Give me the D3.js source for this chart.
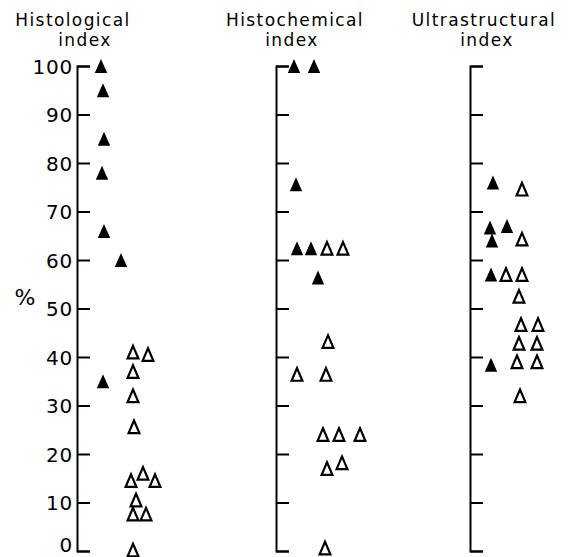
<!DOCTYPE html>
<html><head><meta charset="utf-8">
<script src="https://cdn.jsdelivr.net/npm/d3@7"></script>
<style>body{margin:0;background:#fff}svg{display:block}</style>
</head><body>
<script>
// ---- data ----
const panelTitles = [["Histological","index"],["Histochemical","index"],["Ultrastructural","index"]];
const yTicks = [0,10,20,30,40,50,60,70,80,90,100];
const yLabel = "%";

const histologicalFilled = [100,95,85,78,66,60,35];
const histologicalFilledLane = [2.4,2.6,2.7,2.5,2.7,4.4,2.6];
const histologicalOpen = [41,40.5,37,32,25.6,14.5,16,14.5,10.5,7.6,7.6,0.2];
const histologicalOpenLane = [5.6,7.1,5.6,5.6,5.7,5.4,6.6,7.8,5.9,5.6,6.9,5.6];

const histochemicalFilled = [100,100,75.6,62.4,62.4,56.4];
const histochemicalFilledLane = [1.8,3.8,2.0,2.1,3.5,4.2];
const histochemicalOpen = [62.4,62.4,43.2,36.4,36.4,24,24,24,17,18.2,0.6];
const histochemicalOpenLane = [5.1,6.7,5.2,2.1,5.0,4.7,6.3,8.4,5.1,6.6,4.9];

const ultrastructuralFilled = [76,66.7,67,64,57,38.4];
const ultrastructuralFilledLane = [2.3,2.0,3.7,2.2,2.1,2.1];
const ultrastructuralOpen = [74.6,64.3,57,57,52.5,46.7,46.7,42.8,42.8,39,39,32];
const ultrastructuralOpenLane = [5.2,5.2,3.6,5.2,4.9,5.1,6.8,4.9,6.7,4.7,6.7,5.0];

const panels = [
  {filled: histologicalFilled, filledLane: histologicalFilledLane, open: histologicalOpen, openLane: histologicalOpenLane},
  {filled: histochemicalFilled, filledLane: histochemicalFilledLane, open: histochemicalOpen, openLane: histochemicalOpenLane},
  {filled: ultrastructuralFilled, filledLane: ultrastructuralFilledLane, open: ultrastructuralOpen, openLane: ultrastructuralOpenLane}
];

// ---- layout ----
const W = 571, H = 557;
const axisX = [77, 276, 470];
const titleX = [[73,85],[295,292],[484,487]];
const font = "'DejaVu Sans', sans-serif";

const svg = d3.select("body").append("svg").attr("width", W).attr("height", H);
const y = d3.scaleLinear().domain([0,100]).range([551, 66]);

const filledPath = "M0,-7L6.2,7L-6.2,7Z";
const openPath = "M0,-6.3L5.4,6.3L-5.4,6.3Z";

panels.forEach((p, i) => {
  const x = d3.scaleLinear().domain([0,10]).range([axisX[i], axisX[i] + 100]);
  const g = svg.append("g");

  const axis = d3.axisLeft(y).tickValues(yTicks).tickSizeInner(-13).tickSizeOuter(-13).tickPadding(4);
  if (i > 0) axis.tickFormat("");
  const ag = g.append("g").attr("transform", `translate(${axisX[i]},0)`).call(axis);
  ag.select(".domain").attr("stroke", "#000").attr("stroke-width", 2).attr("fill", "none");
  ag.selectAll(".tick line").attr("stroke", "#000").attr("stroke-width", 2);
  ag.selectAll(".tick text").attr("fill", "#000").attr("dy", d => d === 0 ? "0.02em" : "0.36em")
    .style("font-family", font).style("font-size", "20px").style("letter-spacing", "0.8px");

  // title
  panelTitles[i].forEach((t, j) => {
    svg.append("text").attr("x", titleX[i][j]).attr("y", 26 + j * 20)
      .attr("text-anchor", "middle").style("font-family", font).style("font-size", "17px")
      .style("letter-spacing", "1.4px").attr("fill", "#000").text(t);
  });

  g.selectAll(".filled").data(p.filled).join("path").attr("class","filled")
    .attr("d", filledPath).attr("fill", "#000")
    .attr("transform", (d, k) => `translate(${x(p.filledLane[k])},${y(d)})`);
  g.selectAll(".open").data(p.open).join("path").attr("class","open")
    .attr("d", openPath).attr("fill", "#fff").attr("stroke", "#000").attr("stroke-width", 2.2)
    .attr("stroke-linejoin", "miter")
    .attr("transform", (d, k) => `translate(${x(p.openLane[k])},${y(d)})`);
});

svg.append("text").attr("x", 25).attr("y", 305).attr("text-anchor", "middle")
  .style("font-family", font).style("font-size", "22px").attr("fill", "#000").text(yLabel);
</script>
</body></html>
